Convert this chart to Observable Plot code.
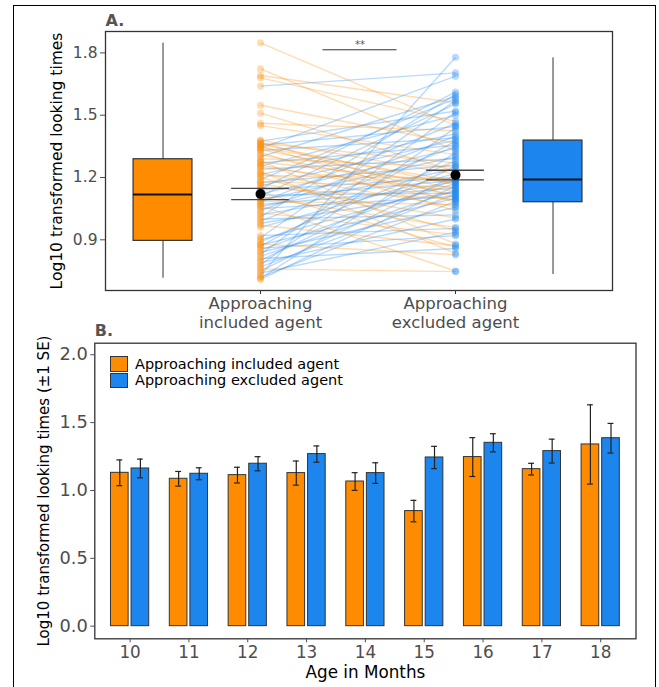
<!DOCTYPE html>
<html><head><meta charset="utf-8">
<script src="https://cdn.jsdelivr.net/npm/d3@7"></script>
<script src="https://cdn.jsdelivr.net/npm/@observablehq/plot@0.6"></script>
<style>
body{margin:0;background:#fff;font-family:"DejaVu Sans",sans-serif;}
#fig{position:relative;width:659px;height:687px;overflow:hidden;background:#fff;}
#border{position:absolute;left:13px;top:5px;width:641px;height:740px;border:1.7px solid #000;}
#fig svg{position:absolute;left:0;}
#legend{position:absolute;left:110px;top:355.5px;font-size:14.5px;color:#000;}
.lrow{display:flex;align-items:center;height:16.5px;}
.sw{width:18px;height:15.5px;box-sizing:border-box;border:1px solid #333;margin-right:7px;}
</style></head>
<body>
<div id="fig"><div id="border"></div><div id="legend"></div></div>
<script>
// ---------- Panel A data ----------
const conditions = ["Approaching included agent", "Approaching excluded agent"];
const included = [0.71,0.715,0.72,0.73,0.74,0.75,0.76,0.77,0.78,0.79,0.80,0.81,0.82,0.83,0.84,0.85,0.86,0.87,0.875,0.88,0.89,0.90,0.91,0.92,
  0.96,0.97,0.98,0.99,1.00,1.01,1.02,1.03,1.04,1.05,1.06,1.065,1.07,1.08,1.085,1.09,1.10,1.105,1.11,1.115,1.12,1.13,1.14,1.145,1.15,1.16,1.17,1.175,1.18,1.19,1.20,1.21,1.215,1.22,1.23,1.24,1.25,1.255,1.26,1.27,1.275,1.28,1.29,
  1.30,1.31,1.32,1.33,1.335,1.34,1.345,1.35,1.355,1.36,1.365,1.37,1.375,1.38,1.45,1.461,1.51,1.548,1.64,1.68,1.691,1.723,1.848];
const excluded = [1.16,1.32,1.085,1.779,0.937,1.21,0.747,1.12,1.44,1.0,1.255,0.858,1.14,1.514,1.057,1.19,0.92,1.375,1.10,0.828,1.28,1.17,1.57,0.955,
  1.22,0.873,1.13,1.35,1.02,1.60,1.18,0.925,1.40,1.11,1.24,0.75,1.15,1.46,1.07,1.30,1.186,0.96,1.555,1.125,1.34,0.865,1.20,1.611,1.095,1.38,1.005,1.26,1.155,1.58,0.945,1.195,1.41,1.06,0.835,1.29,1.135,1.50,1.09,1.355,1.175,0.88,1.25,
  1.59,1.115,1.04,1.39,1.145,1.688,1.183,1.08,1.445,1.165,1.27,1.105,1.52,1.215,1.31,1.425,1.23,1.365,1.704,1.47,1.56,1.33,1.45];
const boxLow = [0.715, 0.733];
const boxQ1 = [0.895, 1.081];
const boxMedian = [1.118, 1.19];
const boxQ3 = [1.288, 1.378];
const boxHigh = [1.847, 1.776];
const meanValues = [1.121, 1.212];
const meanSE = [0.027, 0.023];
const yTicksA = [0.9, 1.2, 1.5, 1.8];
const sigLabel = "**";
const sigY = 1.815, sigFrom = 1.32, sigTo = 1.70;
const yTitleA = "Log10 transformed looking times";

// ---------- Panel B data ----------
const ages = [10, 11, 12, 13, 14, 15, 16, 17, 18];
const includedMean = [1.13, 1.086, 1.113, 1.128, 1.066, 0.848, 1.246, 1.157, 1.339];
const includedSE   = [0.095, 0.054, 0.058, 0.089, 0.065, 0.079, 0.143, 0.043, 0.292];
const excludedMean = [1.162, 1.123, 1.197, 1.268, 1.128, 1.243, 1.351, 1.29, 1.385];
const excludedSE   = [0.069, 0.044, 0.052, 0.06, 0.076, 0.082, 0.067, 0.088, 0.109];
const yTicksB = [0, 0.5, 1.0, 1.5, 2.0];
const yTitleB = "Log10 transformed looking times (\u00b11 SE)";
const xTitleB = "Age in Months";

const orange = "#FF8C00", blue = "#1C86EE";
const fig = document.getElementById("fig");

// ---------- Panel A ----------
const pairs = included.map((v, i) => ({inc: v, exc: excluded[i]}));
const long = pairs.flatMap(d => [{cond: conditions[0], pos: 1, value: d.inc}, {cond: conditions[1], pos: 2, value: d.exc}]);
const boxes = conditions.map((c, i) => ({cond: c, pos: i === 0 ? 0.5 : 2.5, low: boxLow[i], q1: boxQ1[i], med: boxMedian[i], q3: boxQ3[i], high: boxHigh[i]}));
const means = conditions.map((c, i) => ({cond: c, pos: i + 1, mean: meanValues[i], se: meanSE[i]}));
const sig = {label: sigLabel, y: sigY, from: sigFrom, to: sigTo};
const bw = 0.151, ew = 0.148;

const plotA = Plot.plot({
  width: 659, height: 335, marginTop: 31, marginLeft: 105, marginRight: 47, marginBottom: 45,
  style: {fontFamily: "DejaVu Sans", fontSize: "15.5px", background: "transparent", overflow: "visible"},
  x: {domain: [0.205, 2.805]},
  y: {domain: [0.656, 1.903]},
  color: {domain: conditions, range: [orange, blue]},
  marks: [
    Plot.link(pairs, {x1: () => 1, x2: () => 2, y1: "inc", y2: "exc",
      stroke: d => d.inc > d.exc ? conditions[0] : conditions[1], strokeOpacity: 0.3, strokeWidth: 1.4}),
    Plot.dot(long, {x: "pos", y: "value", fill: "cond", fillOpacity: 0.3, r: 3.6}),
    Plot.ruleX(boxes, {x: "pos", y1: "low", y2: "high", stroke: "#333", strokeWidth: 1}),
    Plot.rect(boxes, {x1: d => d.pos - bw, x2: d => d.pos + bw, y1: "q1", y2: "q3", fill: "cond", stroke: "#333", strokeWidth: 1.2}),
    Plot.ruleY(boxes, {y: "med", x1: d => d.pos - bw, x2: d => d.pos + bw, stroke: "#111", strokeWidth: 2}),
    Plot.ruleX(means, {x: "pos", y1: d => d.mean - d.se, y2: d => d.mean + d.se, stroke: "#444", strokeWidth: 1.2}),
    Plot.ruleY(means, {y: d => d.mean + d.se, x1: d => d.pos - ew, x2: d => d.pos + ew, stroke: "#444", strokeWidth: 1.3}),
    Plot.ruleY(means, {y: d => d.mean - d.se, x1: d => d.pos - ew, x2: d => d.pos + ew, stroke: "#444", strokeWidth: 1.3}),
    Plot.dot(means, {x: "pos", y: "mean", r: 5, fill: "#000"}),
    Plot.ruleY([sig], {y: "y", x1: "from", x2: "to", stroke: "#333", strokeWidth: 1}),
    Plot.text([sig], {x: d => (d.from + d.to) / 2, y: "y", text: "label", dy: -2, lineAnchor: "bottom", fontSize: 10, fill: "#555"}),
    Plot.frame({stroke: "#333", strokeWidth: 1.3}),
    Plot.axisY({ticks: yTicksA, tickFormat: d3.format(".1f"), tickSize: 5, tickPadding: 3, label: null, fontSize: 15.5, color: "#4d4d4d"}),
    Plot.axisX({ticks: [1, 2], tickSize: 4, tickFormat: () => "", label: null, color: "#333"}),
    Plot.text(conditions, {x: (d, i) => i + 1, frameAnchor: "bottom", text: d => d.replace(" ", "\n"), dy: 6,
      lineAnchor: "top", lineHeight: 1.1, fontSize: 16.5, fill: "#4d4d4d"}),
    Plot.text([yTitleA], {frameAnchor: "left", textAnchor: "middle", rotate: -90, dx: -48.5, fontSize: 15.5, fill: "#000"}),
    Plot.text(["A."], {frameAnchor: "top-left", textAnchor: "start", dy: -6, lineAnchor: "bottom", fontWeight: "bold", fontSize: 16, fill: "#555"})
  ]
});
plotA.style.top = "0px";
fig.appendChild(plotA);

// ---------- Panel B ----------
const barsB = ages.flatMap((a, i) => [
  {age: a, cond: conditions[0], off: -0.175, mean: includedMean[i], se: includedSE[i]},
  {age: a, cond: conditions[1], off: 0.175, mean: excludedMean[i], se: excludedSE[i]}
]);
const hw = 0.15, cw = 0.05;
const plotB = Plot.plot({
  width: 659, height: 367, marginTop: 22.7, marginLeft: 94.3, marginRight: 23.5, marginBottom: 48.7,
  style: {fontFamily: "DejaVu Sans", fontSize: "17px", background: "transparent", overflow: "visible"},
  x: {domain: [9.4, 18.6]},
  y: {domain: [-0.093, 2.085]},
  color: {domain: conditions, range: [orange, blue]},
  marks: [
    Plot.rect(barsB, {x1: d => d.age + d.off - hw, x2: d => d.age + d.off + hw, y1: () => 0, y2: "mean", fill: "cond", stroke: "#333", strokeWidth: 1}),
    Plot.ruleX(barsB, {x: d => d.age + d.off, y1: d => d.mean - d.se, y2: d => d.mean + d.se, stroke: "#222", strokeWidth: 1.2}),
    Plot.ruleY(barsB, {y: d => d.mean + d.se, x1: d => d.age + d.off - cw, x2: d => d.age + d.off + cw, stroke: "#222", strokeWidth: 1.2}),
    Plot.ruleY(barsB, {y: d => d.mean - d.se, x1: d => d.age + d.off - cw, x2: d => d.age + d.off + cw, stroke: "#222", strokeWidth: 1.2}),
    Plot.frame({stroke: "#333", strokeWidth: 1.3}),
    Plot.axisY({ticks: yTicksB, tickFormat: d3.format(".1f"), tickSize: 4, tickPadding: 3, label: null, fontSize: 17.8, color: "#4d4d4d"}),
    Plot.axisX({ticks: ages, tickFormat: d => String(d), tickSize: 4, tickPadding: 3, label: null, fontSize: 16.8, color: "#4d4d4d"}),
    Plot.text([yTitleB], {frameAnchor: "left", textAnchor: "middle", rotate: -90, dx: -51, fontSize: 15, fill: "#000"}),
    Plot.text([xTitleB], {frameAnchor: "bottom", dy: 39, lineAnchor: "bottom", fontSize: 16.8, fill: "#000"}),
    Plot.text(["B."], {frameAnchor: "top-left", textAnchor: "start", dy: -7.7, lineAnchor: "bottom", fontWeight: "bold", fontSize: 16, fill: "#555"})
  ]
});
plotB.style.top = "320px";
fig.appendChild(plotB);

// ---------- Legend (panel B) ----------
const legend = document.getElementById("legend");
fig.appendChild(legend);
conditions.forEach((c, i) => {
  const row = document.createElement("div");
  row.className = "lrow";
  const sw = document.createElement("div");
  sw.className = "sw";
  sw.style.background = [orange, blue][i];
  const t = document.createElement("span");
  t.textContent = c;
  row.appendChild(sw); row.appendChild(t);
  legend.appendChild(row);
});
</script>
</body></html>
